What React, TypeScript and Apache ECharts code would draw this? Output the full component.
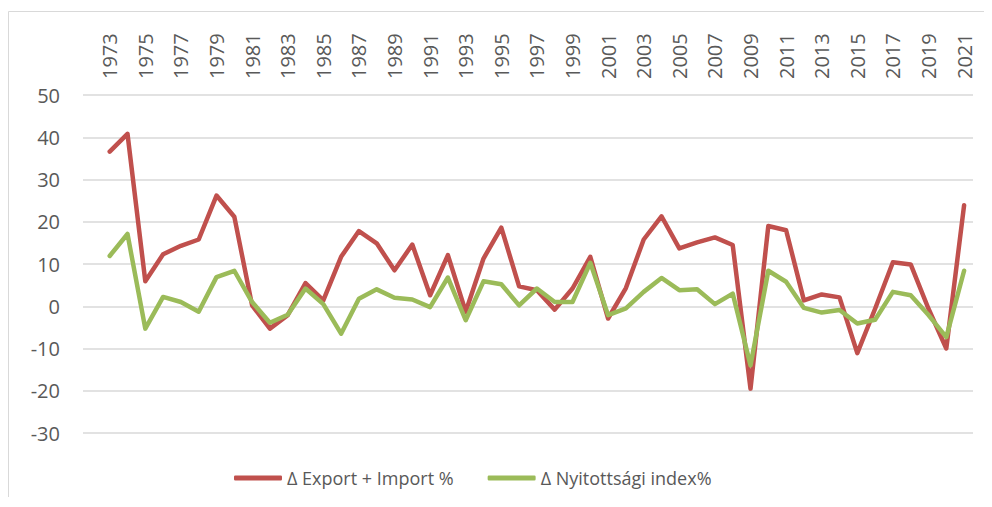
import React, { useEffect, useRef } from "react";
import * as echarts from "echarts";

const years: string[] = [];
for (let y = 1972; y <= 2021; y++) years.push(String(y));

// 1972 has no data (empty first category)
const exportImport: (number | null)[] = [
  null,
  36.6, 40.8, 5.9, 12.3, 14.3, 15.8, 26.2, 21.2, 0.2, -5.3,
  -2.1, 5.5, 1.4, 11.7, 17.8, 14.9, 8.5, 14.6, 2.6, 12.1,
  -1.3, 11.3, 18.6, 4.7, 3.8, -0.8, 4.2, 11.7, -2.9, 4.3,
  15.8, 21.3, 13.7, 15.1, 16.3, 14.5, -19.5, 19.0, 18.0, 1.4,
  2.8, 2.1, -11.1, -0.6, 10.4, 9.9, -0.6, -10.0, 23.9,
];

const openness: (number | null)[] = [
  null,
  11.9, 17.1, -5.3, 2.2, 1.0, -1.3, 6.9, 8.4, 1.0, -3.9,
  -2.0, 4.2, 0.5, -6.5, 1.8, 4.0, 2.0, 1.6, -0.2, 6.8,
  -3.3, 5.9, 5.2, 0.2, 4.2, 1.0, 1.0, 10.3, -2.1, -0.5,
  3.4, 6.7, 3.8, 4.0, 0.5, 3.0, -14.0, 8.4, 5.8, -0.4,
  -1.5, -0.9, -4.1, -3.2, 3.4, 2.6, -2.1, -7.3, 8.4,
];

const seriesNames = ["Δ Export + Import %", "Δ Nyitottsági index%"];
const seriesColors = ["#C0504D", "#9BBB59"];

export default function App() {
  const ref = useRef<HTMLDivElement>(null);
  useEffect(() => {
    if (!ref.current) return;
    const chart = echarts.init(ref.current, null, { renderer: "svg" });
    const font = "'Open Sans', 'Noto Sans', sans-serif";
    chart.setOption({
      animation: false,
      textStyle: { fontFamily: font },
      graphic: [
        {
          type: "rect",
          shape: { x: 0.5, y: 3.5, width: 2000, height: 2000 },
          style: { fill: "none", stroke: "#d9d9d9", lineWidth: 1 },
          silent: true,
        },
      ],
      grid: { left: 75, right: 11, top: 87, bottom: 74, containLabel: false },
      xAxis: {
        type: "category",
        data: years,
        position: "top",
        boundaryGap: true,
        axisLine: { show: false },
        axisTick: { show: false },
        splitLine: { show: false },
        axisLabel: {
          rotate: 90,
          interval: (index: number) => index % 2 === 1,
          color: "#595959",
          fontSize: 20,
          fontFamily: font,
          margin: 16,
        },
      },
      yAxis: {
        type: "value",
        min: -30,
        max: 50,
        interval: 10,
        axisLine: { show: false },
        axisTick: { show: false },
        axisLabel: { color: "#595959", fontSize: 20, fontFamily: font, margin: 23 },
        splitLine: { lineStyle: { color: "#d9d9d9", width: 1.5 } },
      },
      legend: {
        top: 456,
        left: 221,
        itemWidth: 48,
        itemHeight: 5,
        itemGap: 34,
        icon: "roundRect",
        textStyle: { color: "#595959", fontSize: 18, fontFamily: font },
        data: seriesNames,
      },
      series: [
        {
          name: seriesNames[0],
          type: "line",
          data: exportImport,
          symbol: "none",
          color: seriesColors[0],
          lineStyle: { width: 4.5, color: seriesColors[0], cap: "round", join: "round" },
        },
        {
          name: seriesNames[1],
          type: "line",
          data: openness,
          symbol: "none",
          color: seriesColors[1],
          lineStyle: { width: 4.5, color: seriesColors[1], cap: "round", join: "round" },
        },
      ],
    });
    return () => chart.dispose();
  }, []);
  return <div ref={ref} style={{ width: 976, height: 499, marginBottom: -10 }} />;
}
